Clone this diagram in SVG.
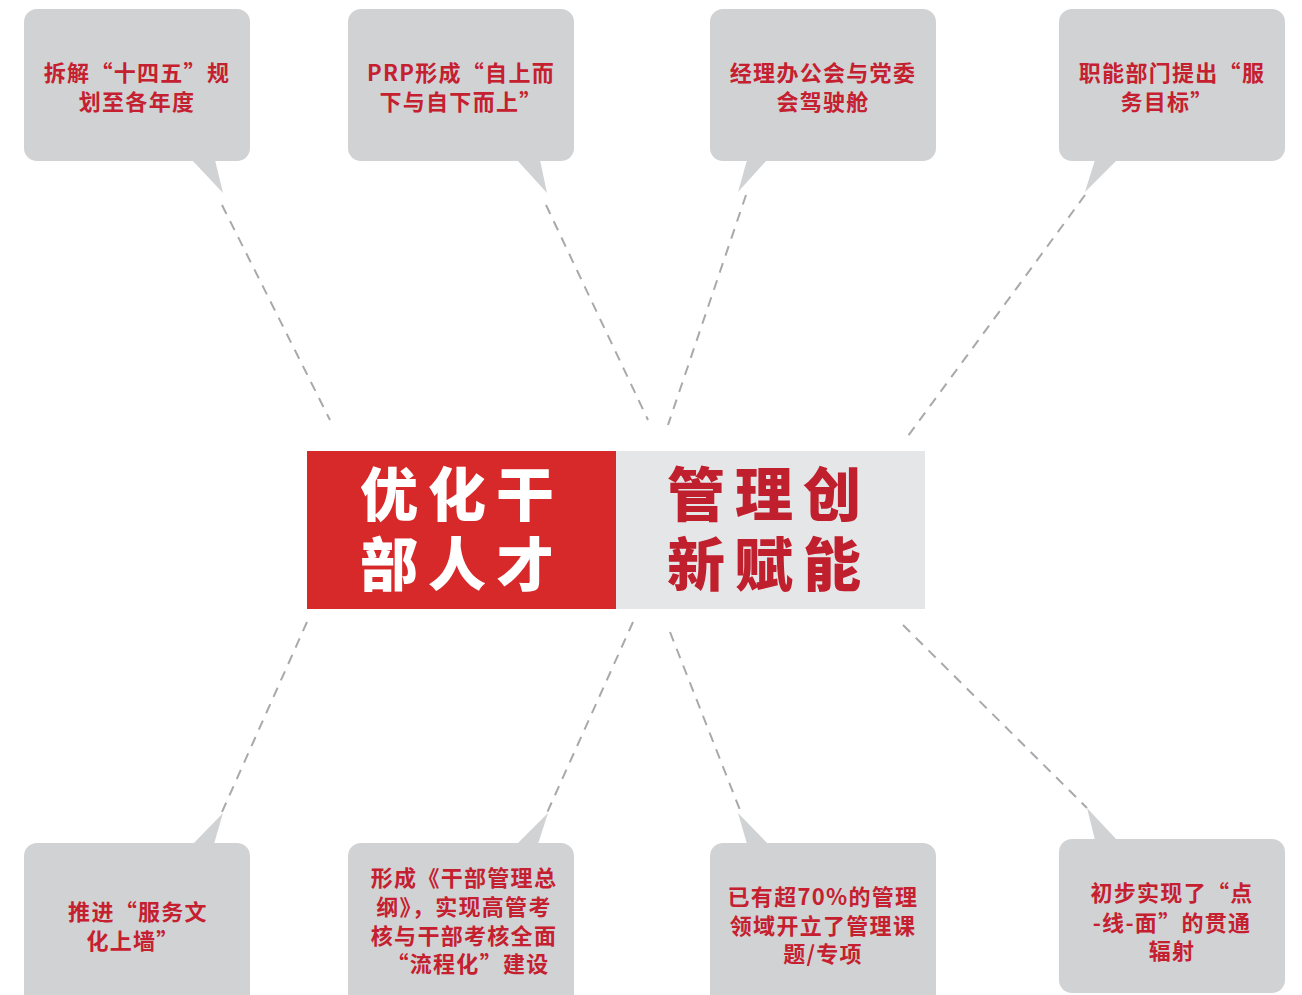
<svg xmlns="http://www.w3.org/2000/svg" width="1302" height="995" viewBox="0 0 1302 995">
<style>
.bub{fill:#d1d2d4}
.t{font-family:"Noto Sans CJK SC","Noto Sans",sans-serif;font-size:22px;font-weight:700;fill:#c5202f;text-anchor:middle;letter-spacing:1.3px}
.big{font-family:"Noto Sans CJK SC",sans-serif;font-size:58px;font-weight:900;letter-spacing:10px}
.dash{stroke:#a7a9ac;stroke-width:2;stroke-dasharray:10 8;fill:none}
</style>
<rect width="1302" height="995" fill="#ffffff"/>
<g id="connectors">
<line class="dash" x1="222" y1="205" x2="330" y2="420"/>
<line class="dash" x1="546" y1="205" x2="648" y2="420"/>
<line class="dash" x1="746" y1="195" x2="668" y2="425"/>
<line class="dash" x1="1085" y1="195" x2="908" y2="436"/>
<line class="dash" x1="307" y1="622" x2="222" y2="812"/>
<line class="dash" x1="633" y1="622" x2="546" y2="815"/>
<line class="dash" x1="670" y1="632" x2="740" y2="810"/>
<line class="dash" x1="903" y1="625" x2="1087" y2="808"/>
</g>
<g id="center">
<rect x="307" y="451" width="309" height="158" fill="#d7282a"/>
<rect x="616" y="451" width="309" height="158" fill="#e5e6e7"/>
<text class="big" x="360" y="516" fill="#ffffff">优化干</text>
<text class="big" x="360" y="586" fill="#ffffff">部人才</text>
<text class="big" x="667" y="516" fill="#c0202e">管理创</text>
<text class="big" x="667" y="586" fill="#c0202e">新赋能</text>
</g>
<g id="n1">
<rect class="bub" x="24" y="9" width="226" height="152" rx="13"/>
<polygon class="bub" points="192,160 215,160 223,193"/>
<text class="t" x="137" y="81">拆解“十四五”规</text>
<text class="t" x="137" y="110">划至各年度</text>
</g>
<g id="n2">
<rect class="bub" x="348" y="9" width="226" height="152" rx="13"/>
<polygon class="bub" points="517,160 540,160 547,193"/>
<text class="t" x="461" y="81">PRP形成“自上而</text>
<text class="t" x="461" y="110">下与自下而上”</text>
</g>
<g id="n3">
<rect class="bub" x="710" y="9" width="226" height="152" rx="13"/>
<polygon class="bub" points="747,160 767,160 738,192"/>
<text class="t" x="823" y="81">经理办公会与党委</text>
<text class="t" x="823" y="110">会驾驶舱</text>
</g>
<g id="n4">
<rect class="bub" x="1059" y="9" width="226" height="152" rx="13"/>
<polygon class="bub" points="1095,160 1117,160 1085,192"/>
<text class="t" x="1172" y="81">职能部门提出“服</text>
<text class="t" x="1167" y="110">务目标”</text>
</g>
<g id="n5">
<rect class="bub" x="24" y="843" width="226" height="165" rx="13"/>
<polygon class="bub" points="193,844 214,844 223,813"/>
<text class="t" x="138" y="920">推进“服务文</text>
<text class="t" x="133" y="949">化上墙”</text>
</g>
<g id="n6">
<rect class="bub" x="348" y="843" width="226" height="165" rx="13"/>
<polygon class="bub" points="517,844 538,844 548,813"/>
<text class="t" x="464" y="886">形成《干部管理总</text>
<text class="t" x="464" y="915">纲》，实现高管考</text>
<text class="t" x="464" y="944">核与干部考核全面</text>
<text class="t" x="468" y="972">“流程化”建设</text>
</g>
<g id="n7">
<rect class="bub" x="710" y="843" width="226" height="165" rx="13"/>
<polygon class="bub" points="747,844 768,844 738,813"/>
<text class="t" x="823" y="905">已有超70%的管理</text>
<text class="t" x="823" y="934">领域开立了管理课</text>
<text class="t" x="823" y="962">题/专项</text>
</g>
<g id="n8">
<rect class="bub" x="1059" y="839" width="226" height="154" rx="13"/>
<polygon class="bub" points="1095,840 1117,840 1087,808"/>
<text class="t" x="1172" y="901">初步实现了“点</text>
<text class="t" x="1172" y="931">-线-面”的贯通</text>
<text class="t" x="1172" y="959">辐射</text>
</g>
</svg>
